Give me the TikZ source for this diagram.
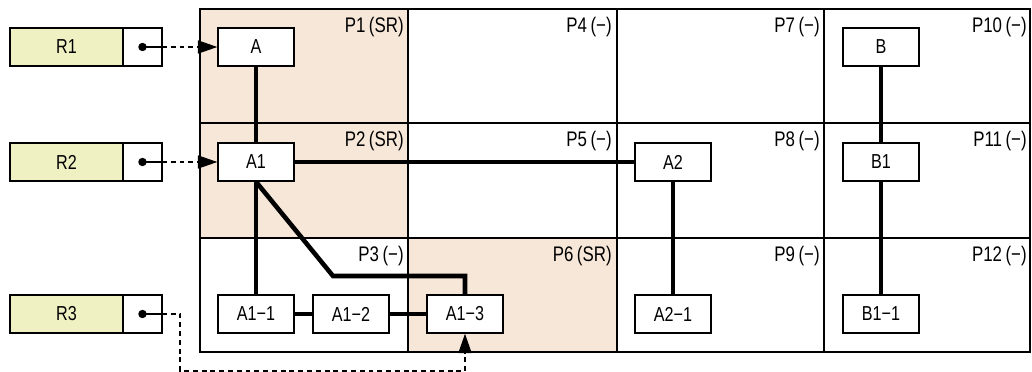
\documentclass[tikz,border=0pt]{standalone}
\usepackage{fontspec}
\setmainfont{Liberation Sans}[FakeStretch=0.8]
\usetikzlibrary{arrows.meta,positioning}
\usepackage{xcolor}
\definecolor{srfill}{RGB}{247,231,216}
\definecolor{reffill}{RGB}{240,241,194}

\begin{document}
\begin{tikzpicture}[
    x=0.02cm, y=-0.02cm,
    obj/.style={draw, line width=0.85pt, fill=white, minimum width=1.52cm, minimum height=0.76cm, inner sep=0pt, font=\fontsize{11.5}{13}\selectfont},
    rlab/.style={draw, line width=0.85pt, fill=reffill, minimum width=2.26cm, minimum height=0.76cm, inner sep=0pt, outer sep=0pt, font=\fontsize{11.5}{13}\selectfont},
    rptr/.style={draw, line width=0.85pt, fill=white, minimum width=0.78cm, minimum height=0.76cm, inner sep=0pt, outer sep=0pt},
    plab/.style={anchor=east, inner sep=0pt, font=\fontsize{12}{13}\selectfont},
    link/.style={line width=2.6pt},
    refline/.style={line width=0.65pt, dash pattern=on 2.8pt off 2.2pt},
    reftip/.style={-{Triangle[length=11pt,width=7.5pt]}}
]
    \useasboundingbox (0,0) rectangle (1032,372);

    % partitions
    \fill[srfill] (200,9) rectangle (408,238);
    \fill[srfill] (408,238) rectangle (617,352);
    \draw[line width=0.65pt] (408,9) -- (408,352) (617,9) -- (617,352) (824,9) -- (824,352);
    \draw[line width=0.65pt] (200,123) -- (1030,123) (200,238) -- (1030,238);
    \draw[line width=0.85pt] (200,9) rectangle (1030,352);
    \foreach \n/\tag/\xr/\yc in {1/SR/404/27, 2/SR/404/141, 3/−/404/256,
                                4/−/612/27, 5/−/612/141, 6/SR/612/256,
                                7/−/820/27, 8/−/820/141, 9/−/820/256,
                                10/−/1027/27, 11/−/1027/141, 12/−/1027/256}
        \node[plab] (p\n) at (\xr,\yc) {P\n\,(\tag)};

    % segments
    \node[obj] (a) at (256,47) {A};
    \node[obj] (a1) at (256,162) {A1};
    \node[obj] (a11) at (256,314) {A1−1};
    \node[obj] (a12) at (351,314) {A1−2};
    \node[obj] (a13) at (465,314) {A1−3};
    \node[obj] (a2) at (673,162) {A2};
    \node[obj] (a21) at (673,314) {A2−1};
    \node[obj] (b) at (881,47) {B};
    \node[obj] (b1) at (881,162) {B1};
    \node[obj] (b11) at (881,314) {B1−1};

    \draw[link] (a) -- (a1);
    \draw[link] (a1) -- (a2);
    \draw[link] (a1) -- (a11);
    \coordinate (bend) at (333,276);
    \draw[link] (a1.south) -- (bend) -- (bend -| a13.north) -- (a13.north);
    \draw[link] (a11) -- (a12);
    \draw[link] (a12) -- (a13);
    \draw[link] (a2) -- (a21);
    \draw[link] (b) -- (b1);
    \draw[link] (b1) -- (b11);

    % references
    \node[rlab] (r1) at (66.5,47) {R1};
    \node[rptr, right=0pt of r1] (r1p) {};
    \node[rlab] (r2) at (66.5,162) {R2};
    \node[rptr, right=0pt of r2] (r2p) {};
    \node[rlab] (r3) at (66.5,314) {R3};
    \node[rptr, right=0pt of r3] (r3p) {};

    \foreach \r in {r1p,r2p,r3p} {
        \fill (\r.center) circle (2.4pt);
        \draw[line width=0.65pt] (\r.center) -- (\r.east);
    }
    \draw[refline, reftip] (r1p.east) -- (a.west);
    \draw[refline, reftip] (r2p.east) -- (a1.west);
    \coordinate (r3turn) at (180,314);
    \coordinate (r3low) at (180,371);
    \draw[refline, reftip] (r3p.east) -- (r3turn) -- (r3low) -- (r3low -| a13.south) -- (a13.south);
\end{tikzpicture}
\end{document}
